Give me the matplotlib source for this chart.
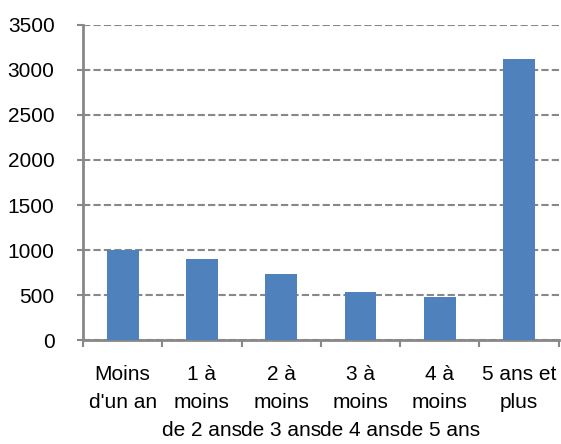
import matplotlib.pyplot as plt
import numpy as np

plt.rcParams['font.family'] = ['Liberation Sans', 'DejaVu Sans']

categories = ["Moins\nd'un an", "1 à\nmoins\nde 2 ans", "2 à\nmoins\nde 3 ans",
              "3 à\nmoins\nde 4 ans", "4 à\nmoins\nde 5 ans", "5 ans et\nplus"]
values = [1005, 900, 735, 537, 482, 3122]
yticks = [0, 500, 1000, 1500, 2000, 2500, 3000, 3500]

fig = plt.figure(figsize=(5.61, 4.44), dpi=100)
ax = fig.add_axes([0.148, 0.234, 0.848, 0.710])

x = np.arange(len(categories))
ax.bar(x, values, width=0.4, color='#4F81BD', zorder=3)

ax.set_xlim(-0.5, len(categories) - 0.5)
ax.set_ylim(0, 3500)
ax.set_yticks(yticks)
ax.set_yticklabels([str(v) for v in yticks], fontsize=15)
ax.yaxis.grid(True, color='#888888', linestyle=(0, (3.5, 1.5)), linewidth=1.5, zorder=0)

ax.set_xticks(x)
ax.set_xticklabels(categories, fontsize=15, linespacing=1.58, va='top')
ax.set_xticks(np.arange(-0.5, len(categories)), minor=True)
ax.tick_params(axis='x', which='major', length=0, pad=18)
ax.tick_params(axis='x', which='minor', length=5, width=1.5, color='#888888', direction='out')
ax.tick_params(axis='y', length=4.5, width=1.5, color='#888888', pad=16)

for s in ['top', 'right']:
    ax.spines[s].set_visible(False)
for s in ['left', 'bottom']:
    ax.spines[s].set_color('#888888')
    ax.spines[s].set_linewidth(2)

fig.savefig('out.png', dpi=100)
